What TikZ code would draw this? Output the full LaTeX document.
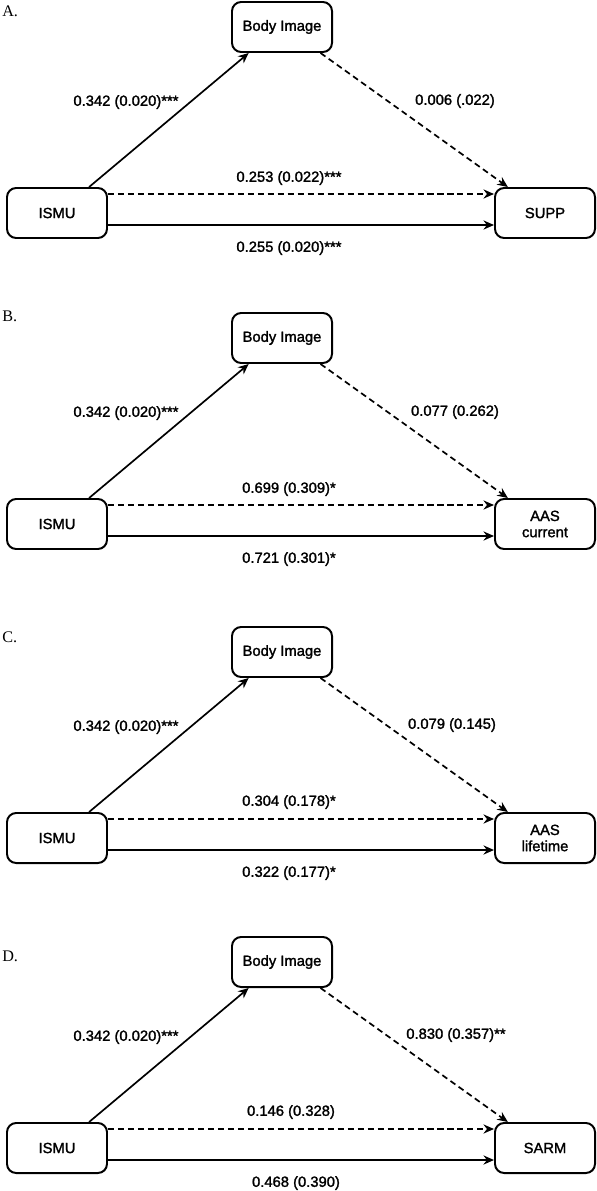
\documentclass[tikz,border=0pt]{standalone}
\usepackage{fontspec}
\setmainfont{Liberation Sans}[FakeBold=1.6]
\newfontfamily\panelfont{Liberation Serif}
\usetikzlibrary{arrows.meta}

\begin{document}
\begin{tikzpicture}[x=0.025cm, y=-0.025cm,
    box/.style={draw, line width=1.4pt, rounded corners=6.5pt, minimum width=2.5cm, minimum height=1.25cm, align=center, inner sep=1pt, font=\fontsize{10.5}{11.5}\selectfont},
    coef/.style={inner sep=0pt, font=\fontsize{10.5}{12}\selectfont},
    letter/.style={anchor=west, inner sep=0pt, font=\panelfont\fontsize{11.5}{13}\selectfont},
    effect/.style={line width=1.2pt, -{Stealth[length=7.5pt, width=6.5pt, inset=2.5pt]}},
    indirect/.style={effect, dash pattern=on 4.3pt off 2.8pt}]
    \useasboundingbox (0,0) rectangle (597,1191);

    \begin{scope}
    \node [letter] (letA) at (2,11) {A.};
    \node [box] (bodyA) at (282,27) {Body Image};
    \node [box] (ismuA) at (57,213) {ISMU};
    \node [box] (suppA) at (545,213) {SUPP};
    \draw [effect] (ismuA.39) -- (bodyA.218);
    \draw [indirect] (bodyA.326) -- (suppA.145);
    \draw [indirect] ([yshift=0.475cm]ismuA.east) -- ([yshift=0.475cm]suppA.west);
    \draw [effect] ([yshift=-0.3cm]ismuA.east) -- ([yshift=-0.3cm]suppA.west);
    \node [coef] (aA) at (126,102) {0.342 (0.020)***};
    \node [coef] (bA) at (455,101) {0.006 (.022)};
    \node [coef] (cA) at (289,178) {0.253 (0.022)***};
    \node [coef] (dA) at (289,248) {0.255 (0.020)***};
    \end{scope}

    \begin{scope}[shift={(0,311)}]
    \node [letter] (letB) at (2,5) {B.};
    \node [box] (bodyB) at (282,27) {Body Image};
    \node [box] (ismuB) at (57,213) {ISMU};
    \node [box] (aascB) at (545,213) {AAS\\current};
    \draw [effect] (ismuB.39) -- (bodyB.218);
    \draw [indirect] (bodyB.326) -- (aascB.145);
    \draw [indirect] ([yshift=0.475cm]ismuB.east) -- ([yshift=0.475cm]aascB.west);
    \draw [effect] ([yshift=-0.3cm]ismuB.east) -- ([yshift=-0.3cm]aascB.west);
    \node [coef] (aB) at (126,102) {0.342 (0.020)***};
    \node [coef] (bB) at (455,101) {0.077 (0.262)};
    \node [coef] (cB) at (289,178) {0.699 (0.309)*};
    \node [coef] (dB) at (289,248) {0.721 (0.301)*};
    \end{scope}

    \begin{scope}[shift={(0,625)}]
    \node [letter] (letC) at (2,12) {C.};
    \node [box] (bodyC) at (282,27) {Body Image};
    \node [box] (ismuC) at (57,213) {ISMU};
    \node [box] (aaslC) at (545,213) {AAS\\lifetime};
    \draw [effect] (ismuC.39) -- (bodyC.218);
    \draw [indirect] (bodyC.326) -- (aaslC.145);
    \draw [indirect] ([yshift=0.475cm]ismuC.east) -- ([yshift=0.475cm]aaslC.west);
    \draw [effect] ([yshift=-0.3cm]ismuC.east) -- ([yshift=-0.3cm]aaslC.west);
    \node [coef] (aC) at (126,102) {0.342 (0.020)***};
    \node [coef] (bC) at (452,100) {0.079 (0.145)};
    \node [coef] (cC) at (289,177) {0.304 (0.178)*};
    \node [coef] (dC) at (289,248) {0.322 (0.177)*};
    \end{scope}

    \begin{scope}[shift={(0,935)}]
    \node [letter] (letD) at (2,21) {D.};
    \node [box] (bodyD) at (282,27) {Body Image};
    \node [box] (ismuD) at (57,213) {ISMU};
    \node [box] (sarmD) at (545,213) {SARM};
    \draw [effect] (ismuD.39) -- (bodyD.218);
    \draw [indirect] (bodyD.326) -- (sarmD.145);
    \draw [indirect] ([yshift=0.475cm]ismuD.east) -- ([yshift=0.475cm]sarmD.west);
    \draw [effect] ([yshift=-0.3cm]ismuD.east) -- ([yshift=-0.3cm]sarmD.west);
    \node [coef] (aD) at (126,102) {0.342 (0.020)***};
    \node [coef] (bD) at (456,100) {0.830 (0.357)**};
    \node [coef] (cD) at (291,177) {0.146 (0.328)};
    \node [coef] (dD) at (296,248) {0.468 (0.390)};
    \end{scope}
\end{tikzpicture}
\end{document}
